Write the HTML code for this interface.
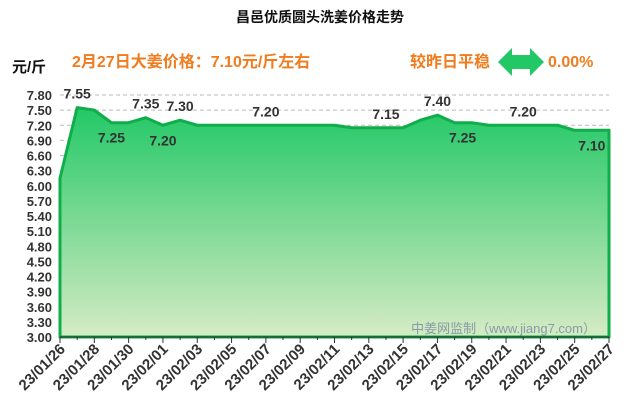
<!DOCTYPE html>
<html><head><meta charset="utf-8"><style>
body{margin:0;width:640px;height:410px;background:#fff;overflow:hidden}
text{font-family:"Liberation Sans","Noto Sans CJK SC",sans-serif}
</style></head><body>
<svg id="c" width="640" height="410">
<defs><linearGradient id="g" x1="0" y1="0" x2="0" y2="1"><stop offset="0" stop-color="#22c866"/><stop offset="1" stop-color="#d6ebc4"/></linearGradient></defs>
<text x="320" y="22" text-anchor="middle" font-size="14" font-weight="bold" fill="#111">昌邑优质圆头洗姜价格走势</text>
<text x="12" y="72" font-size="15" font-weight="bold" fill="#111">元/斤</text>
<text x="72" y="67" font-size="16" font-weight="bold" fill="#f07c1e">2月27日大姜价格：7.10元/斤左右</text>
<text x="410" y="67" font-size="16" font-weight="bold" fill="#f07c1e">较昨日平稳</text>
<path d="M498 62 L512 48 L512 55 L530 55 L530 48 L544 62 L530 76 L530 69 L512 69 L512 76 Z" fill="#22c866"/>
<text x="548" y="67" font-size="16" font-weight="bold" fill="#f07c1e">0.00%</text>
<g id="grid"></g><g id="area"></g><g id="ax"></g><g id="lbl"></g>
<text x="596" y="333" text-anchor="end" font-size="13" fill="#8a9aa8">中姜网监制（www.jiang7.com）</text>
</svg>
<script>
const dates=["01/26","01/27","01/28","01/29","01/30","01/31","02/01","02/02","02/03","02/04","02/05","02/06","02/07","02/08","02/09","02/10","02/11","02/12","02/13","02/14","02/15","02/16","02/17","02/18","02/19","02/20","02/21","02/22","02/23","02/24","02/25","02/26","02/27"];
const prices=[6.15,7.55,7.50,7.25,7.25,7.35,7.20,7.30,7.20,7.20,7.20,7.20,7.20,7.20,7.20,7.20,7.20,7.15,7.15,7.15,7.15,7.30,7.40,7.25,7.25,7.20,7.20,7.20,7.20,7.20,7.10,7.10,7.10];
const yTicks=["3.00","3.30","3.60","3.90","4.20","4.50","4.80","5.10","5.40","5.70","6.00","6.30","6.60","6.90","7.20","7.50","7.80"];
const labelIdx=[1,3,5,6,7,12,19,22,23,27,31];
const labelPos=["a","b","a","b","a","a","a","a","b","a","b"];
const NS="http://www.w3.org/2000/svg";
const X=i=>60+i*(549/(dates.length-1));
const Y=v=>337-(v-3)/4.8*242;
function mk(t,a,p){const e=document.createElementNS(NS,t);for(const k in a)e.setAttribute(k,a[k]);p.appendChild(e);return e;}
const grid=document.getElementById('grid'),area=document.getElementById('area'),ax=document.getElementById('ax'),lbl=document.getElementById('lbl');
yTicks.forEach(t=>{const v=+t,y=Y(v);
 const l=mk('line',{x1:60,x2:609,y1:y,y2:y,stroke:'#bbb','stroke-dasharray':'4,3'},grid);
 
 const tx=mk('text',{x:52,y:y+5,'text-anchor':'end','font-size':13,'font-weight':'bold',fill:'#333'},ax);tx.textContent=t;
 });
let d=`M${X(0)} ${Y(3)}`;prices.forEach((v,i)=>d+=` L${X(i)} ${Y(v)}`);d+=` L${X(prices.length-1)} ${Y(3)} Z`;
const a=mk('path',{d:d,fill:'url(#g)',stroke:'#0fae4a','stroke-width':3,'stroke-linejoin':'round'},area);

const base=mk('line',{x1:60,x2:609,y1:337,y2:337,stroke:'#1a6a3a','stroke-width':2},ax);

dates.forEach((dt,i)=>{const x=X(i);
 const tk=mk('line',{x1:x,x2:x,y1:337,y2:i%2?340:343,stroke:'#333'},ax);
 
 if(i%2==0){const t=mk('text',{x:x+6,y:350,'text-anchor':'end','font-size':15,'font-weight':'bold',fill:'#333',transform:`rotate(-45 ${x+6} 350)`},ax);t.textContent='23/'+dt;
 }});
labelIdx.forEach((i,k)=>{const y=Y(prices[i]);const t=mk('text',{x:X(i)+(k==8?8:0),y:labelPos[k]=='a'?y-9:y+20,'text-anchor':'middle','font-size':14,'font-weight':'bold',fill:'#333'},lbl);
 t.textContent=prices[i].toFixed(2);});
</script>
</body></html>
